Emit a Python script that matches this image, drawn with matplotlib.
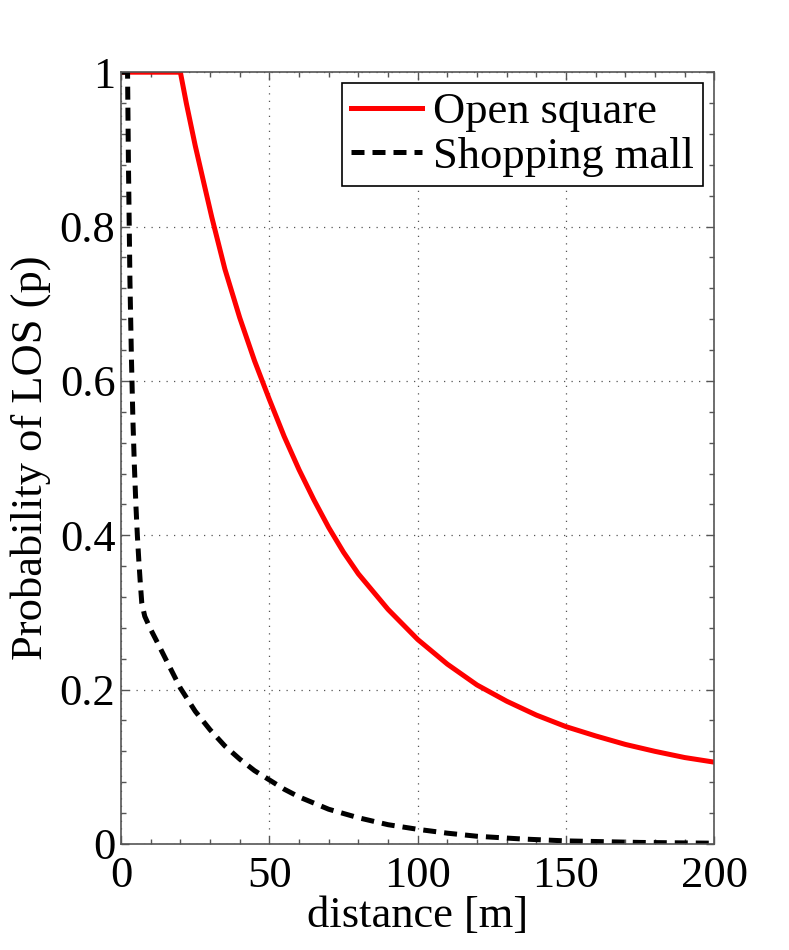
import numpy as np
import matplotlib
matplotlib.use("Agg")
import matplotlib.pyplot as plt
from matplotlib.ticker import MultipleLocator, FixedLocator

# values
open_d = [0, 20, 22, 25, 28, 30.6, 35, 40, 45, 50, 55, 60, 65, 70, 75, 80, 90,
          100, 110, 120, 130, 140, 150, 160, 170, 180, 190, 200]
open_p = [1, 1, 0.96, 0.905, 0.855, 0.812, 0.745, 0.682, 0.626, 0.576, 0.528, 0.485,
          0.446, 0.410, 0.378, 0.350, 0.304, 0.265, 0.233, 0.206, 0.185, 0.167,
          0.152, 0.140, 0.129, 0.120, 0.112, 0.106]

mall_d = [0, 2.2, 2.5, 3.0, 3.5, 4.0, 4.5, 5.0, 5.5, 6.0, 6.5, 7.0, 8, 10, 12, 15,
          20, 25, 30, 35, 40, 45, 50, 55, 60, 70, 80, 90, 100, 110, 120, 135, 150,
          175, 200]
mall_p = [1, 1, 0.88, 0.73, 0.63, 0.55, 0.49, 0.44, 0.40, 0.367, 0.338, 0.312,
          0.295, 0.278, 0.263, 0.240, 0.202, 0.172, 0.148, 0.127, 0.110, 0.095,
          0.083, 0.071, 0.061, 0.045, 0.034, 0.025, 0.019, 0.014, 0.010, 0.0065,
          0.004, 0.002, 0.001]

labels = ["Open square", "Shopping mall"]
yticks = [0, 0.2, 0.4, 0.6, 0.8, 1]
ytick_labels = ["0", "0.2", "0.4", "0.6", "0.8", "1"]
xticks = [0, 50, 100, 150, 200]

plt.rcParams['font.family'] = ['Liberation Serif', 'DejaVu Serif']
plt.rcParams['font.size'] = 32

fig = plt.figure(figsize=(7.89, 9.5), dpi=100)
ax = fig.add_axes([0.1534, 0.1116, 0.752, 0.8124])

ax.plot(open_d, open_p, color='#ff0000', lw=3.6, label=labels[0])
ax.plot(mall_d, mall_p, color='black', lw=3.6, dashes=(2.6, 1.6), label=labels[1])

ax.set_xlim(0, 200)
ax.set_ylim(0, 1)
ax.xaxis.set_major_locator(FixedLocator(xticks))
ax.set_xticklabels([str(t) for t in xticks])
ax.yaxis.set_major_locator(FixedLocator(yticks))
ax.set_yticklabels(ytick_labels)
ax.xaxis.set_minor_locator(MultipleLocator(10))
ax.yaxis.set_minor_locator(MultipleLocator(0.04))
ax.tick_params(which='both', direction='in', top=True, right=True,
               color='#555555', width=1)
ax.tick_params(which='major', length=6)
ax.tick_params(which='minor', length=3.5)
ax.tick_params(axis='x', which='major', pad=9)
ax.tick_params(axis='y', which='major', pad=4)
for s in ax.spines.values():
    s.set_color('#555555')
    s.set_linewidth(1.2)

ax.grid(True, which='major', linestyle=(0, (1, 5)), color='#555555', lw=0.9)

ax.set_xlabel('distance [m]', labelpad=0)
ax.set_ylabel('Probability of LOS (p)', labelpad=6)

leg = ax.legend(loc='upper right', fancybox=False, framealpha=1, edgecolor='black',
                handlelength=1.6, handletextpad=0.25, borderpad=0.2,
                labelspacing=0.1, borderaxespad=0.25)
leg.get_frame().set_linewidth(1.2)

fig.savefig('out.png', dpi=100, facecolor='white')
